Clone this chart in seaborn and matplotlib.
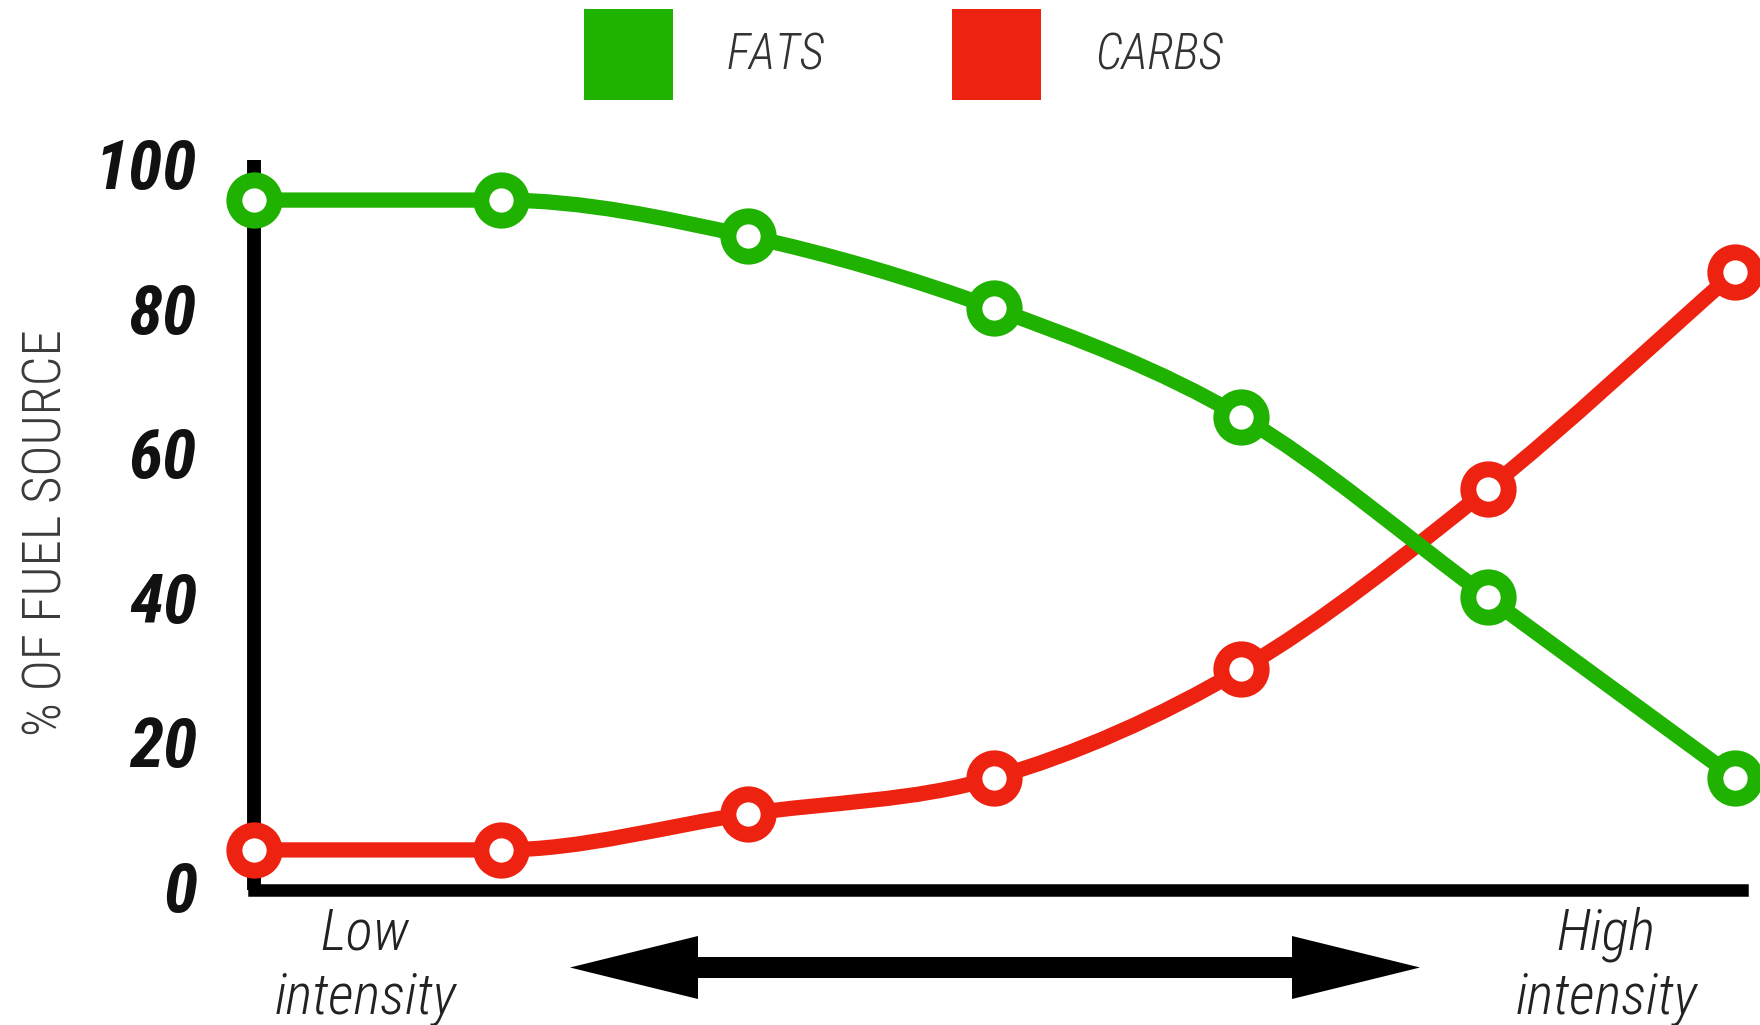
import numpy as np
import pandas as pd
import matplotlib
matplotlib.use("Agg")
import matplotlib.pyplot as plt
import seaborn as sns
from matplotlib import font_manager as fm
from matplotlib.path import Path
from matplotlib.patches import PathPatch, Patch, Polygon

# ---------------- data ----------------
intensity_steps = [0, 1, 2, 3, 4, 5, 6]
fats = [95, 95, 90, 80, 65, 40, 15]
carbs = [5, 5, 10, 15, 30, 55, 85]
series_names = ["FATS", "CARBS"]
y_ticks = [0, 20, 40, 60, 80, 100]
low_label = "Low\nintensity"
high_label = "High\nintensity"
y_label = "% OF FUEL SOURCE"

colors = {"FATS": "#1fb200", "CARBS": "#ee2210"}

df = pd.DataFrame({
    "step": intensity_steps * 2,
    "pct": fats + carbs,
    "source": ["FATS"] * len(fats) + ["CARBS"] * len(carbs),
})


# ---------------- font choice (a condensed face if one is installed) -------
def pick_font():
    prefs = ["Roboto Condensed", "Liberation Sans Narrow", "Noto Sans Condensed",
             "Open Sans Condensed", "DejaVu Sans Condensed", "Arial Narrow"]
    names = {f.name for f in fm.fontManager.ttflist}
    for p in prefs:
        if p in names:
            return p, "normal", True
    for f in fm.fontManager.ttflist:
        if str(f.stretch) in ("condensed", "semi-condensed", "extra-condensed",
                              "ultra-condensed"):
            return f.name, f.stretch, True
    return "DejaVu Sans", "normal", False


FONT, STRETCH, CONDENSED = pick_font()
if CONDENSED:
    fs_tick, fs_ylab, fs_leg, fs_int = 50, 38, 35, 41
else:
    fs_tick, fs_ylab, fs_leg, fs_int = 40, 31, 29, 34

# ---------------- style ----------------
sns.set_style("white")
plt.rcParams["font.family"] = [FONT, "DejaVu Sans"]
plt.rcParams["font.stretch"] = STRETCH

W, H = 1760, 1025
fig = plt.figure(figsize=(W / 100, H / 100), dpi=100)
ax = fig.add_axes([254 / W, 135 / H, (1742 - 254) / W, (865 - 135) / H])
ax.set_xlim(0, 6.03)
ax.set_ylim(-0.55, 100.55)


def monotone_path(xs, ys):
    """Monotone cubic (Fritsch-Carlson) curve through the data points (styling only)."""
    xs = np.asarray(xs, float)
    ys = np.asarray(ys, float)
    n = len(xs)
    dk = np.diff(ys) / np.diff(xs)
    m = np.zeros(n)
    for i in range(n):
        if i == 0:
            m[i] = dk[0]
        elif i == n - 1:
            m[i] = dk[-1]
        elif np.sign(dk[i - 1]) != np.sign(dk[i]):
            m[i] = 0.0
        else:
            m[i] = (dk[i - 1] + dk[i]) / 2
    for i in range(n - 1):
        if dk[i] == 0:
            m[i] = m[i + 1] = 0.0
            continue
        a, b = m[i] / dk[i], m[i + 1] / dk[i]
        sq = a * a + b * b
        if sq > 9:
            tau = 3 / np.sqrt(sq)
            m[i] = a * tau * dk[i]
            m[i + 1] = b * tau * dk[i]
    verts = [(xs[0], ys[0])]
    codes = [Path.MOVETO]
    for i in range(n - 1):
        dx = (xs[i + 1] - xs[i]) / 3
        verts += [(xs[i] + dx, ys[i] + m[i] * dx),
                  (xs[i + 1] - dx, ys[i + 1] - m[i + 1] * dx),
                  (xs[i + 1], ys[i + 1])]
        codes += [Path.CURVE4] * 3
    return Path(verts, codes)


z = 3
for name in ["CARBS", "FATS"]:
    sub = df[df["source"] == name]
    ax.add_patch(PathPatch(monotone_path(sub["step"], sub["pct"]), fill=False,
                           edgecolor=colors[name], lw=11, capstyle="round",
                           joinstyle="round", zorder=z, clip_on=False))
    sns.scatterplot(data=sub, x="step", y="pct", ax=ax, s=29 ** 2,
                    color="white", edgecolor=colors[name], linewidth=11.5,
                    zorder=z + 1, clip_on=False, legend=False)
    z += 2

# ---------------- axes ----------------
sns.despine(ax=ax)
for side, lw in [("left", 10), ("bottom", 9)]:
    ax.spines[side].set_linewidth(lw)
    ax.spines[side].set_color("black")
    ax.spines[side].set_zorder(2)
ax.spines["bottom"].set_capstyle("projecting")
ax.spines["left"].set_capstyle("butt")

ax.set_xticks([])
ax.set_yticks(y_ticks)
ax.set_yticklabels([str(v) for v in y_ticks], fontsize=fs_tick, fontweight="bold",
                   fontstyle="italic", color="#111111")
ax.tick_params(axis="y", length=0, pad=41)
ax.set_xlabel("")
ax.set_ylabel(y_label, fontsize=fs_ylab, color="#3a3a3a", va="center",
              fontweight="light")
ax.yaxis.set_label_coords(-0.1395, 0.489)

# ---------------- legend ----------------
handles = [Patch(facecolor=colors[n], edgecolor="none", label=n) for n in series_names]
leg_f_px = fs_leg * 100 / 72
leg = fig.legend(handles=handles, loc="upper left",
                 bbox_to_anchor=(584 / W, 1 - 9 / H), ncol=2, frameon=False,
                 fontsize=fs_leg, handlelength=89 / leg_f_px,
                 handleheight=2.75 * 34 / fs_leg * (89 / 94.4),
                 handletextpad=54 / leg_f_px, columnspacing=127 / leg_f_px,
                 borderpad=0, borderaxespad=0)
for txt in leg.get_texts():
    txt.set_fontstyle("italic")
    txt.set_fontweight("light")
    txt.set_color("#333333")

# ---------------- intensity labels & arrow ----------------
for cx, lab in [(365, low_label), (1606, high_label)]:
    fig.text(cx / W, 1 - 966 / H, lab, ha="center", va="center",
             fontsize=fs_int, fontstyle="italic", fontweight="light",
             color="#222222", linespacing=1.2, multialignment="center")

ax_l, ax_r = 570, 1420
head_len, head_half, shaft_half, cy = 128, 31.5, 10.5, 967.5
arrow_px = [
    (ax_l, cy), (ax_l + head_len, cy - head_half), (ax_l + head_len, cy - shaft_half),
    (ax_r - head_len, cy - shaft_half), (ax_r - head_len, cy - head_half), (ax_r, cy),
    (ax_r - head_len, cy + head_half), (ax_r - head_len, cy + shaft_half),
    (ax_l + head_len, cy + shaft_half), (ax_l + head_len, cy + head_half),
]
arrow_fig = [(x / W, 1 - y / H) for x, y in arrow_px]
fig.patches.append(Polygon(arrow_fig, closed=True, facecolor="black",
                           edgecolor="none", transform=fig.transFigure))

fig.savefig("out.png", dpi=100, facecolor="white")
